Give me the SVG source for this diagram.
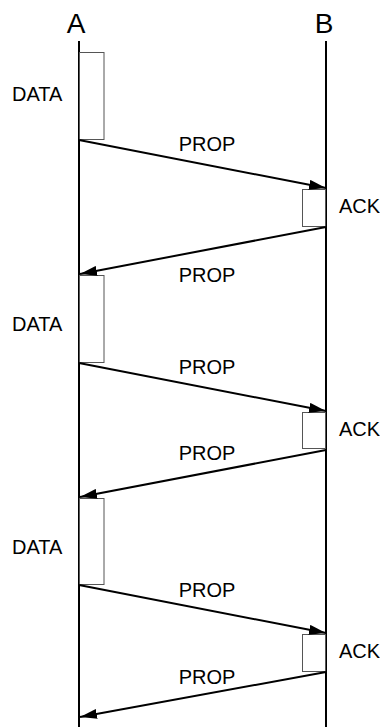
<svg xmlns="http://www.w3.org/2000/svg" width="380" height="727" viewBox="0 0 380 727">
  <style>
    .life { stroke: #000; stroke-width: 2; fill: none; }
    .box { fill: #fff; stroke: #555; stroke-width: 1; }
    .msg { stroke: #000; stroke-width: 2; fill: none; marker-end: url(#head); }
    .lbl { font-family: "Liberation Sans", Arial, sans-serif; font-size: 20px; fill: #000; }
    .hdr { font-family: "Liberation Sans", Arial, sans-serif; font-size: 28px; fill: #000; text-anchor: middle; }
    .mid { text-anchor: middle; }
  </style>
  <defs>
    <marker id="head" markerUnits="userSpaceOnUse" markerWidth="18" markerHeight="10" refX="17" refY="5" orient="auto">
      <path d="M0,0 L17,5 L0,10 Z" fill="#000"/>
    </marker>
  </defs>

  <!-- endpoints -->
  <g id="nodeA">
    <text class="hdr" x="76" y="33">A</text>
    <line class="life" x1="79" y1="41" x2="79" y2="727"/>
  </g>
  <g id="nodeB">
    <text class="hdr" x="324" y="33">B</text>
    <line class="life" x1="326" y1="41" x2="326" y2="727"/>
  </g>

  <!-- transmissions at A -->
  <g id="data1">
    <rect class="box" x="79.5" y="52.5" width="24.5" height="87"/>
    <text class="lbl" x="12" y="101">DATA</text>
  </g>
  <g id="data2">
    <rect class="box" x="79.5" y="275.5" width="24.5" height="87"/>
    <text class="lbl" x="12" y="331">DATA</text>
  </g>
  <g id="data3">
    <rect class="box" x="79.5" y="498.5" width="24.5" height="86"/>
    <text class="lbl" x="12" y="554">DATA</text>
  </g>

  <!-- acknowledgements at B -->
  <g id="ack1">
    <rect class="box" x="302.5" y="189.5" width="23" height="37"/>
    <text class="lbl" x="339" y="213">ACK</text>
  </g>
  <g id="ack2">
    <rect class="box" x="302.5" y="412.5" width="23" height="36"/>
    <text class="lbl" x="339" y="436">ACK</text>
  </g>
  <g id="ack3">
    <rect class="box" x="302.5" y="634.5" width="23" height="37"/>
    <text class="lbl" x="339" y="658">ACK</text>
  </g>

  <!-- propagation messages -->
  <g id="connectors">
    <line class="msg" x1="79" y1="140" x2="326" y2="188"/>
    <line class="msg" x1="326" y1="227" x2="80" y2="274"/>
    <line class="msg" x1="79" y1="363" x2="326" y2="411"/>
    <line class="msg" x1="326" y1="450" x2="80" y2="497"/>
    <line class="msg" x1="79" y1="585" x2="326" y2="633"/>
    <line class="msg" x1="326" y1="672" x2="80" y2="717"/>
    <text class="lbl mid" x="207" y="151">PROP</text>
    <text class="lbl mid" x="207" y="282">PROP</text>
    <text class="lbl mid" x="207" y="374">PROP</text>
    <text class="lbl mid" x="207" y="460">PROP</text>
    <text class="lbl mid" x="207" y="597">PROP</text>
    <text class="lbl mid" x="207" y="684">PROP</text>
  </g>
</svg>
